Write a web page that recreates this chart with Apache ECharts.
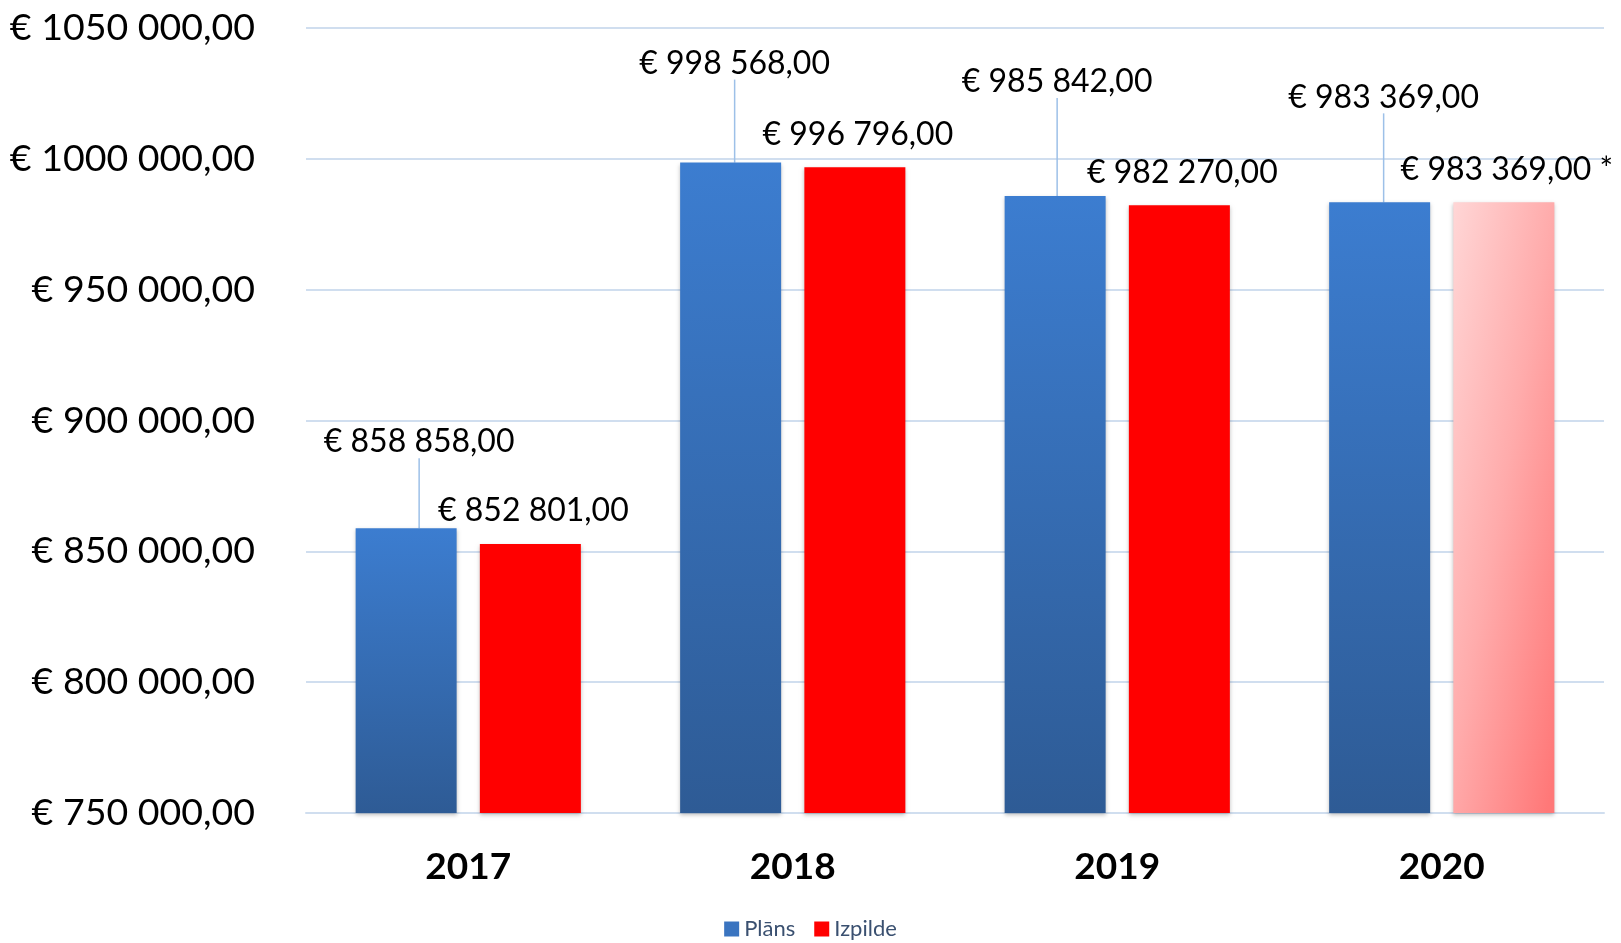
<!DOCTYPE html>
<html>
<head>
<meta charset="utf-8">
<script src="https://cdn.jsdelivr.net/npm/echarts@6/dist/echarts.min.js"></script>
<style>
  html, body { margin: 0; padding: 0; background: #fff; }
  #chart { width: 1621px; height: 943px; }
</style>
</head>
<body>
<div id="chart"></div>
<script>
var years = ["2017", "2018", "2019", "2020"];
var plans = [858858, 998568, 985842, 983369];
var izpilde = [852801, 996796, 982270, 983369];
var izpildeNotes = ["", "", "", " *"];
var izpildeProvisional = [false, false, false, true];

// label lift for Plāns (leader lines), in px
var planLabelLift = [
  { dx: 13, dy: -53 },
  { dx: 4, dy: -66 },
  { dx: 2, dy: -81 },
  { dx: 4, dy: -72 }
];

function euro(v) {
  var thou = Math.floor(v / 1000);
  var rest = String(v % 1000);
  while (rest.length < 3) rest = "0" + rest;
  return "€ " + thou + " " + rest + ",00";
}

var FONT = "Lato";

var blueFill = new echarts.graphic.LinearGradient(0, 0, 0, 1, [
  { offset: 0, color: "#3C7DD0" },
  { offset: 1, color: "#2E5B95" }
]);
// diagonal across a tall bar: stretched so both x and y count
var pinkFill = new echarts.graphic.LinearGradient(0, 0, 1.94, 0.057, [
  { offset: 0, color: "#FFD6D6" },
  { offset: 0.5, color: "#FFABAB" },
  { offset: 1, color: "#FF7878" }
]);

var barShadow = {
  shadowBlur: 4,
  shadowColor: "rgba(0,0,0,0.25)",
  shadowOffsetY: 2
};

var dataLabel = {
  show: true,
  position: "top",
  distance: 17,
  fontFamily: FONT,
  fontSize: 32,
  color: "#000"
};

var myChart = echarts.init(document.getElementById("chart"));

var option = {
  animation: false,
  grid: {
    left: 306,
    right: 17,
    top: 28,
    bottom: 130
  },
  legend: {
    bottom: -2,
    left: "center",
    icon: "rect",
    itemWidth: 15,
    itemHeight: 15,
    itemGap: 19,
    itemStyle: { borderWidth: 0 },
    textStyle: {
      fontFamily: FONT,
      fontSize: 22,
      color: "#3A5070"
    },
    data: [
      { name: "Plāns", itemStyle: { color: "#3A74C0" } },
      { name: "Izpilde", itemStyle: { color: "#FF0000" } }
    ]
  },
  xAxis: {
    type: "category",
    data: years,
    axisTick: { show: false },
    axisLine: { show: true, lineStyle: { color: "#D0DEEF", width: 2 } },
    axisLabel: {
      margin: 36,
      fontFamily: FONT,
      fontSize: 37,
      fontWeight: "bold",
      color: "#000"
    }
  },
  yAxis: {
    type: "value",
    min: 750000,
    max: 1050000,
    interval: 50000,
    axisLine: { show: false },
    axisTick: { show: false },
    splitLine: { lineStyle: { color: "#D0DEEF", width: 2 } },
    axisLabel: {
      margin: 51,
      fontFamily: FONT,
      fontSize: 37.5,
      color: "#000",
      formatter: euro
    }
  },
  series: [
    {
      name: "Plāns",
      type: "bar",
      barWidth: 101,
      barGap: "23%",
      itemStyle: Object.assign({ color: blueFill }, barShadow),
      data: plans,
      label: Object.assign({}, dataLabel, {
        formatter: function (p) { return euro(p.value); }
      }),
      labelLine: {
        show: true,
        lineStyle: { color: "#9DC0E8", width: 1.5 }
      },
      labelLayout: function (p) {
        return planLabelLift[p.dataIndex];
      }
    },
    {
      name: "Izpilde",
      type: "bar",
      barWidth: 101,
      barGap: "23%",
      data: izpilde.map(function (v, i) {
        return {
          value: v,
          itemStyle: Object.assign({ color: izpildeProvisional[i] ? pinkFill : "#FF0000" }, barShadow)
        };
      }),
      label: Object.assign({}, dataLabel, {
        formatter: function (p) { return euro(p.value) + izpildeNotes[p.dataIndex]; }
      }),
      labelLayout: { dx: 3 }
    }
  ]
};

myChart.setOption(option);
</script>
</body>
</html>
